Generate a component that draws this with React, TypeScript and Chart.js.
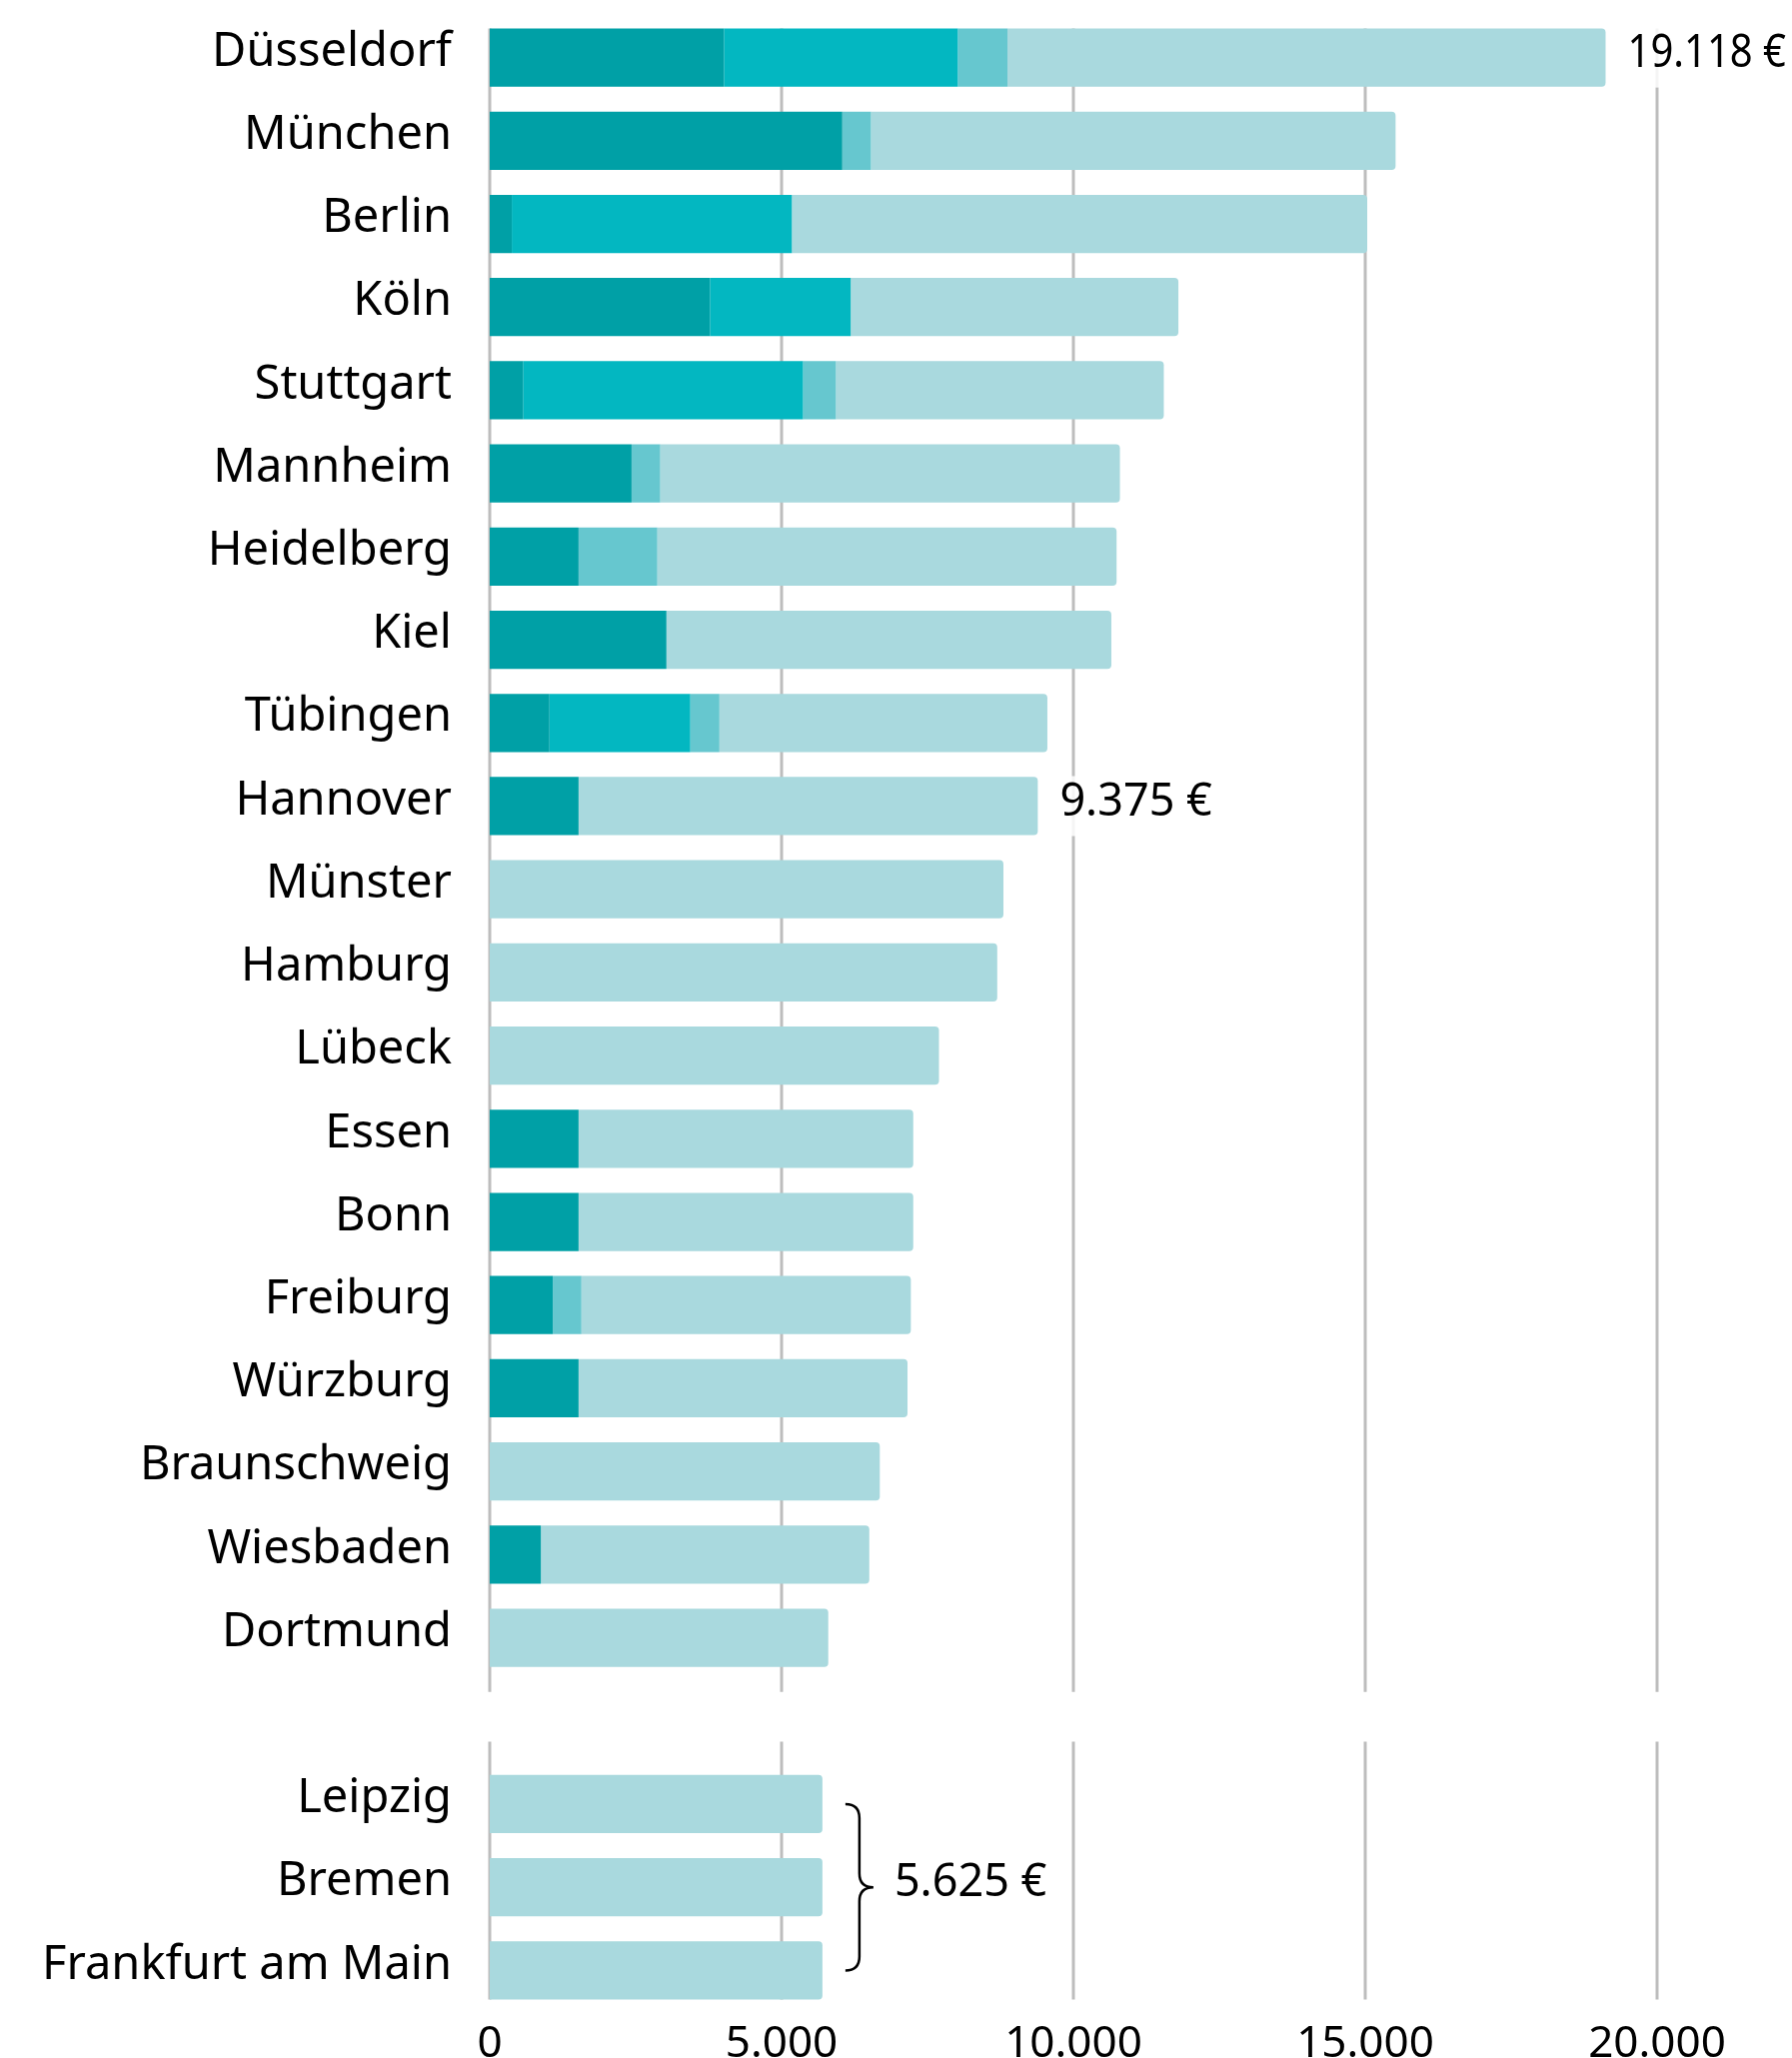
import React, { useEffect, useRef } from "react";
import { Chart, registerables } from "chart.js";

Chart.register(...registerables);

// ---- data ----
const cities = [
  "Düsseldorf", "München", "Berlin", "Köln", "Stuttgart", "Mannheim", "Heidelberg", "Kiel",
  "Tübingen", "Hannover", "Münster", "Hamburg", "Lübeck", "Essen", "Bonn", "Freiburg",
  "Würzburg", "Braunschweig", "Wiesbaden", "Dortmund", "", "Leipzig", "Bremen", "Frankfurt am Main",
];
const segDark = [4013, 6040, 378, 3773, 570, 2430, 1522, 3027, 1023, 1522, 0, 0, 0, 1522, 1522, 1081, 1522, 0, 876, 0, null, 0, 0, 0];
const segCyan = [4007, 0, 4798, 2411, 4798, 0, 0, 0, 2413, 0, 0, 0, 0, 0, 0, 0, 0, 0, 0, 0, null, 0, 0, 0];
const segLight = [851, 492, 0, 0, 564, 491, 1349, 0, 499, 0, 0, 0, 0, 0, 0, 490, 0, 0, 0, 0, null, 0, 0, 0];
const segPale = [10247, 8988, 9858, 5615, 5617, 7876, 7869, 7623, 5619, 7868, 8801, 8695, 7697, 5734, 5734, 5644, 5636, 6683, 5627, 5800, null, 5700, 5700, 5700];

const xTickValues = [0, 5000, 10000, 15000, 20000];
const xTickLabels = ["0", "5.000", "10.000", "15.000", "20.000"];

const calloutIndex = [0, 9];
const calloutText = ["19.118 €", "9.375 €"];
const braceIndex = [21, 22, 23];
const braceText = "5.625 €";

const colors = ["#00A0A6", "#03B7C1", "#66C7CF", "#A9D9DE"];
const FONT = "'Noto Sans', sans-serif";

function totalAt(i: number) {
  return (segDark[i] || 0) + (segCyan[i] || 0) + (segLight[i] || 0) + (segPale[i] || 0);
}

const gridPlugin = {
  id: "splitGrid",
  beforeDatasetsDraw(chart: any) {
    const { ctx } = chart;
    const xs = chart.scales.x;
    const ys = chart.scales.y;
    const pitch = ys.getPixelForValue(1) - ys.getPixelForValue(0);
    const segs = [
      [ys.getPixelForValue(0) - pitch * 0.35, ys.getPixelForValue(19) + pitch * 0.65],
      [ys.getPixelForValue(21) - pitch * 0.75, ys.getPixelForValue(23) + pitch * 0.35],
    ];
    ctx.save();
    ctx.strokeStyle = "#BDBDBD";
    ctx.lineWidth = 3;
    for (const v of xTickValues) {
      const x = Math.round(xs.getPixelForValue(v));
      for (const [a, b] of segs) {
        ctx.beginPath();
        ctx.moveTo(x, a);
        ctx.lineTo(x, b);
        ctx.stroke();
      }
    }
    ctx.restore();
  },
};

const labelPlugin = {
  id: "callouts",
  afterDatasetsDraw(chart: any) {
    const { ctx } = chart;
    const xs = chart.scales.x;
    const ys = chart.scales.y;
    ctx.save();
    ctx.font = `45px ${FONT}`;
    ctx.textBaseline = "middle";
    ctx.textAlign = "left";
    calloutIndex.forEach((idx, k) => {
      const x = xs.getPixelForValue(totalAt(idx)) + 22;
      const y = ys.getPixelForValue(idx);
      const w = ctx.measureText(calloutText[k]).width;
      const avail = chart.width - 6 - x;
      const sx = Math.min(1, avail / w);
      ctx.fillStyle = "rgba(255,255,255,0.85)";
      ctx.fillRect(x - 4, y - 30, w * sx + 8, 60);
      ctx.fillStyle = "#000";
      ctx.save();
      ctx.translate(x, y - 3);
      ctx.scale(sx, 1);
      ctx.fillText(calloutText[k], 0, 0);
      ctx.restore();
    });
    // brace
    const x0 = xs.getPixelForValue(totalAt(braceIndex[0])) + 23;
    const yT = ys.getPixelForValue(braceIndex[0]);
    const yM = ys.getPixelForValue(braceIndex[1]);
    const yB = ys.getPixelForValue(braceIndex[2]);
    const d = 14;
    ctx.strokeStyle = "#000";
    ctx.lineWidth = 2.5;
    ctx.beginPath();
    ctx.moveTo(x0, yT);
    ctx.quadraticCurveTo(x0 + d, yT, x0 + d, yT + d);
    ctx.lineTo(x0 + d, yM - d);
    ctx.quadraticCurveTo(x0 + d, yM, x0 + 2 * d, yM);
    ctx.quadraticCurveTo(x0 + d, yM, x0 + d, yM + d);
    ctx.lineTo(x0 + d, yB - d);
    ctx.quadraticCurveTo(x0 + d, yB, x0, yB);
    ctx.stroke();
    ctx.fillStyle = "#000";
    ctx.fillText(braceText, x0 + 49, yM - 4);
    ctx.restore();
  },
};

export default function App() {
  const ref = useRef<HTMLCanvasElement | null>(null);
  useEffect(() => {
    document.body.style.margin = "0";
    if (!ref.current) return;
    const ds = [segDark, segCyan, segLight, segPale].map((d, i) => ({
      label: "s" + i,
      data: d,
      backgroundColor: colors[i],
      borderWidth: 0,
      borderRadius: i === 3 ? 4 : 0,
      barPercentage: 0.7,
      categoryPercentage: 1,
    }));
    const chart = new Chart(ref.current, {
      type: "bar",
      data: { labels: cities, datasets: ds as any },
      plugins: [gridPlugin, labelPlugin],
      options: {
        indexAxis: "y",
        animation: false,
        responsive: false,
        maintainAspectRatio: false,
        layout: { padding: { left: 0, right: 135, top: 16, bottom: 0 } },
        plugins: { legend: { display: false }, tooltip: { enabled: false } },
        scales: {
          x: {
            stacked: true,
            min: 0,
            max: 20000,
            afterBuildTicks: (s: any) => {
              s.ticks = xTickValues.map((v) => ({ value: v }));
            },
            afterFit: (s: any) => {
              s.height = 46;
              s.paddingLeft = 0;
              s.paddingRight = 0;
            },
            grid: { display: false, drawTicks: false },
            border: { display: false },
            ticks: {
              color: "#000",
              font: { family: FONT, size: 44 },
              padding: 6,
              maxRotation: 0,
              callback: (_v: any, i: number) => xTickLabels[i],
            },
          },
          y: {
            stacked: true,
            afterFit: (s: any) => {
              s.width = 490;
              s.paddingTop = 0;
              s.paddingBottom = 0;
            },
            grid: { display: false, drawTicks: false },
            border: { display: false },
            ticks: {
              color: "#000",
              font: { family: FONT, size: 47, lineHeight: 0.22 },
              padding: 38,
              autoSkip: false,
              // second empty line lifts the label a few px above bar centre
              callback: (_v: any, i: number) => [cities[i], ""],
            },
          },
        },
      },
    });
    return () => chart.destroy();
  }, []);
  return (
    <div style={{ width: 1793, height: 2059, position: "relative", background: "#fff" }}>
      <canvas ref={ref} width={1793} height={2059} style={{ width: 1793, height: 2059, display: "block" }} />
    </div>
  );
}
